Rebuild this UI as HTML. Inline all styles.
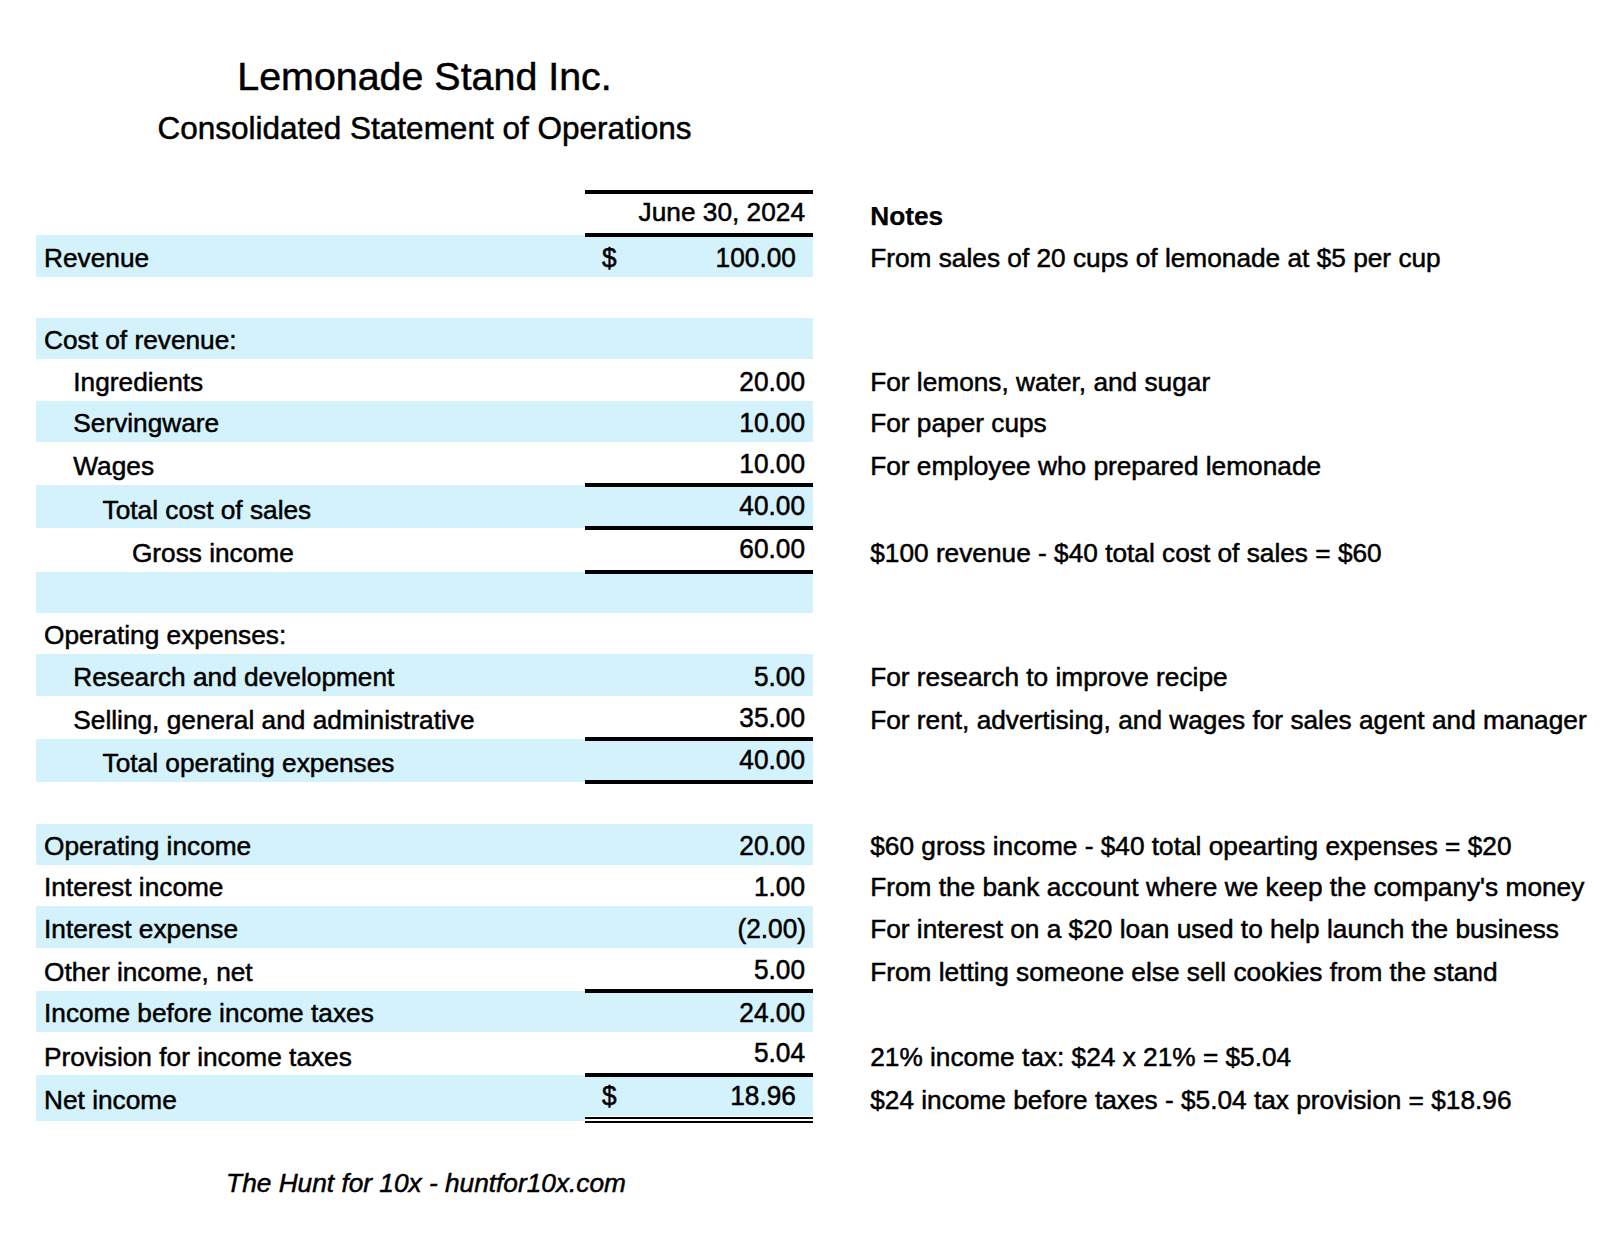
<!DOCTYPE html>
<html lang="en"><head><meta charset="utf-8"><title>Lemonade Stand Inc. - Consolidated Statement of Operations</title>
<style>
html,body{margin:0;padding:0;background:#fff;}
body{width:1620px;height:1234px;position:relative;overflow:hidden;font-family:"Liberation Sans",Arial,Helvetica,sans-serif;color:#000;-webkit-text-stroke:0.5px #000;font-size:26.25px;line-height:30px;}
.t{position:absolute;white-space:nowrap;height:30px;}
.bg{position:absolute;left:36px;width:777px;background:#d4f2fc;}
.ln{position:absolute;left:585px;width:228px;background:#000;}
.r{text-align:right;}
.n{transform:scaleY(1.041);transform-origin:50% 24px;}
.c{text-align:center;}
h1,h2{margin:0;font-weight:normal;}
</style></head><body>
<h1 class="t c" style="top:53.00px;left:0.00px;font-size:39.4px;line-height:46px;height:46px;left:36px;width:777px;">Lemonade Stand Inc.</h1>
<h2 class="t c" style="top:109.00px;left:0.00px;font-size:31.5px;line-height:38px;height:38px;left:36px;width:777px;">Consolidated Statement of Operations</h2>
<div class="bg" style="top:235px;height:42px"></div>
<div class="bg" style="top:318px;height:41px"></div>
<div class="bg" style="top:401px;height:41px"></div>
<div class="bg" style="top:485px;height:43px"></div>
<div class="bg" style="top:572px;height:41px"></div>
<div class="bg" style="top:654px;height:42px"></div>
<div class="bg" style="top:739px;height:43px"></div>
<div class="bg" style="top:824px;height:41px"></div>
<div class="bg" style="top:906px;height:42px"></div>
<div class="bg" style="top:991px;height:41px"></div>
<div class="bg" style="top:1075px;height:46px"></div>
<div class="t r" style="top:197.00px;right:815.00px;">June 30, 2024</div>
<div class="t " style="top:201.00px;left:870.20px;font-weight:bold;-webkit-text-stroke-width:0.25px;">Notes</div>
<div class="t " style="top:243.00px;left:44.00px;">Revenue</div>
<div class="t n" style="top:243.00px;left:601.90px;">$</div>
<div class="t r n" style="top:243.00px;right:824.10px;">100.00</div>
<div class="t " style="top:243.00px;left:870.20px;">From sales of 20 cups of lemonade at $5 per cup</div>
<div class="t " style="top:325.00px;left:44.00px;">Cost of revenue:</div>
<div class="t " style="top:367.00px;left:73.30px;">Ingredients</div>
<div class="t r n" style="top:367.00px;right:815.00px;">20.00</div>
<div class="t " style="top:367.00px;left:870.20px;">For lemons, water, and sugar</div>
<div class="t " style="top:408.00px;left:73.30px;">Servingware</div>
<div class="t r n" style="top:408.00px;right:815.00px;">10.00</div>
<div class="t " style="top:408.00px;left:870.20px;">For paper cups</div>
<div class="t " style="top:451.00px;left:73.30px;">Wages</div>
<div class="t r n" style="top:449.00px;right:815.00px;">10.00</div>
<div class="t " style="top:451.00px;left:870.20px;">For employee who prepared lemonade</div>
<div class="t " style="top:495.00px;left:102.60px;">Total cost of sales</div>
<div class="t r n" style="top:491.00px;right:815.00px;">40.00</div>
<div class="t " style="top:538.00px;left:131.90px;">Gross income</div>
<div class="t r n" style="top:534.00px;right:815.00px;">60.00</div>
<div class="t " style="top:538.00px;left:870.20px;">$100 revenue - $40 total cost of sales = $60</div>
<div class="t " style="top:620.00px;left:44.00px;">Operating expenses:</div>
<div class="t " style="top:662.00px;left:73.30px;">Research and development</div>
<div class="t r n" style="top:662.00px;right:815.00px;">5.00</div>
<div class="t " style="top:662.00px;left:870.20px;">For research to improve recipe</div>
<div class="t " style="top:705.00px;left:73.30px;">Selling, general and administrative</div>
<div class="t r n" style="top:703.00px;right:815.00px;">35.00</div>
<div class="t " style="top:705.00px;left:870.20px;">For rent, advertising, and wages for sales agent and manager</div>
<div class="t " style="top:748.00px;left:102.60px;">Total operating expenses</div>
<div class="t r n" style="top:745.00px;right:815.00px;">40.00</div>
<div class="t " style="top:831.00px;left:44.00px;">Operating income</div>
<div class="t r n" style="top:831.00px;right:815.00px;">20.00</div>
<div class="t " style="top:831.00px;left:870.20px;">$60 gross income - $40 total opearting expenses = $20</div>
<div class="t " style="top:872.00px;left:44.00px;">Interest income</div>
<div class="t r n" style="top:872.00px;right:815.00px;">1.00</div>
<div class="t " style="top:872.00px;left:870.20px;">From the bank account where we keep the company's money</div>
<div class="t " style="top:914.00px;left:44.00px;">Interest expense</div>
<div class="t r n" style="top:914.00px;right:814.00px;">(2.00)</div>
<div class="t " style="top:914.00px;left:870.20px;">For interest on a $20 loan used to help launch the business</div>
<div class="t " style="top:957.00px;left:44.00px;">Other income, net</div>
<div class="t r n" style="top:955.00px;right:815.00px;">5.00</div>
<div class="t " style="top:957.00px;left:870.20px;">From letting someone else sell cookies from the stand</div>
<div class="t " style="top:998.00px;left:44.00px;">Income before income taxes</div>
<div class="t r n" style="top:998.00px;right:815.00px;">24.00</div>
<div class="t " style="top:1042.00px;left:44.00px;">Provision for income taxes</div>
<div class="t r n" style="top:1038.00px;right:815.00px;">5.04</div>
<div class="t " style="top:1042.00px;left:870.20px;">21% income tax: $24 x 21% = $5.04</div>
<div class="t " style="top:1085.00px;left:44.00px;">Net income</div>
<div class="t n" style="top:1081.00px;left:601.90px;">$</div>
<div class="t r n" style="top:1081.00px;right:824.10px;">18.96</div>
<div class="t " style="top:1085.00px;left:870.20px;">$24 income before taxes - $5.04 tax provision = $18.96</div>
<div class="ln" style="top:190px;height:4px"></div>
<div class="ln" style="top:233px;height:4px"></div>
<div class="ln" style="top:483px;height:4px"></div>
<div class="ln" style="top:526px;height:4px"></div>
<div class="ln" style="top:570px;height:4px"></div>
<div class="ln" style="top:737px;height:4px"></div>
<div class="ln" style="top:780px;height:4px"></div>
<div class="ln" style="top:989px;height:4px"></div>
<div class="ln" style="top:1073px;height:4px"></div>
<div class="ln" style="top:1116px;height:5px;background:#fff"></div>
<div class="ln" style="top:1117px;height:2px"></div>
<div class="ln" style="top:1121px;height:2px"></div>
<div class="t c" style="top:1168.00px;left:0.00px;left:37.5px;width:777px;font-style:italic;">The Hunt for 10x - huntfor10x.com</div>
</body></html>
